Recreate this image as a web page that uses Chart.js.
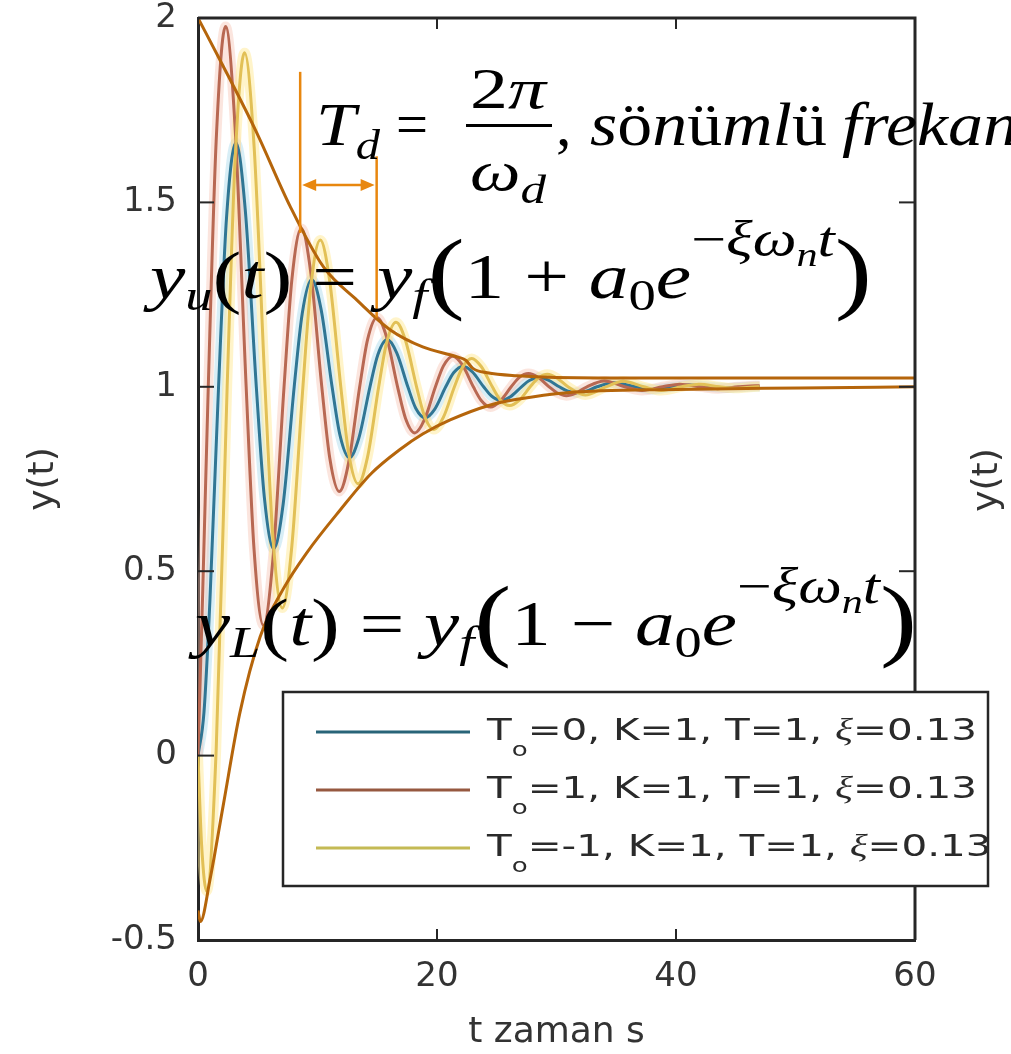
<!DOCTYPE html>
<html>
<head>
<meta charset="utf-8">
<script src="https://cdn.jsdelivr.net/npm/chart.js@4.4.1/dist/chart.umd.min.js"></script>
<style>
  html, body { margin: 0; padding: 0; background: #fff; }
  canvas { display: block; }
</style>
</head>
<body>
<canvas id="chart" width="1011" height="1054"></canvas>
<script>
// step responses (t in s)
const tBlue = [0, 0.5, 1.0, 1.72, 2.38, 3.17, 3.96, 4.88, 5.55, 6.34, 7.13, 8.05, 8.72, 9.51, 10.30, 11.22, 11.88, 12.67, 13.46, 14.39, 15.05, 15.84, 16.63, 17.56, 18.22, 19.01, 19.80, 20.73, 21.39, 22.18, 22.97, 23.90, 24.56, 25.35, 26.14, 27.07, 27.73, 28.52, 29.31, 30.23, 30.90, 31.69, 32.48, 33.40, 34.85, 36.57, 38.02, 39.74, 41.19, 42.91, 44.36, 46.08, 47.0];
const yBlue = [0, 0.117, 0.423, 1.0, 1.455, 1.662, 1.478, 1.0, 0.701, 0.561, 0.683, 1.0, 1.198, 1.291, 1.210, 1.0, 0.869, 0.808, 0.861, 1.0, 1.087, 1.128, 1.092, 1.0, 0.942, 0.916, 0.939, 1.0, 1.038, 1.056, 1.040, 1.0, 0.975, 0.963, 0.973, 1.0, 1.017, 1.025, 1.018, 1.0, 0.989, 0.984, 0.988, 1.0, 1.011, 1.0, 0.993, 1.0, 1.005, 1.0, 0.997, 1.0, 1.001];

const tRed = [0, 0.4, 0.86, 1.52, 2.31, 3.10, 4.03, 4.69, 5.48, 6.27, 7.20, 7.86, 8.65, 9.44, 10.36, 11.03, 11.82, 12.61, 13.53, 14.19, 14.98, 15.77, 16.70, 17.36, 18.15, 18.94, 19.87, 20.53, 21.32, 22.11, 23.04, 23.70, 24.49, 25.28, 26.21, 26.87, 27.66, 28.45, 29.38, 30.04, 30.83, 31.62, 32.55, 33.99, 35.71, 37.16, 38.88, 40.33, 42.05, 43.50, 45.22, 46.67, 47.0];
const yRed = [0, 0.45, 1.0, 1.666, 1.977, 1.705, 1.0, 0.559, 0.353, 0.533, 1.0, 1.292, 1.429, 1.309, 1.0, 0.806, 0.716, 0.795, 1.0, 1.128, 1.188, 1.136, 1.0, 0.915, 0.875, 0.910, 1.0, 1.056, 1.083, 1.060, 1.0, 0.963, 0.945, 0.961, 1.0, 1.025, 1.036, 1.026, 1.0, 0.984, 0.976, 0.983, 1.0, 1.016, 1.0, 0.990, 1.0, 1.007, 1.0, 0.995, 1.0, 1.003, 1.003];

const tYel = [0, 0.3, 0.73, 1.52, 2.44, 3.11, 3.90, 4.69, 5.61, 6.27, 7.06, 7.85, 8.78, 9.44, 10.23, 11.02, 11.95, 12.61, 13.40, 14.19, 15.12, 15.78, 16.57, 17.36, 18.29, 18.95, 19.74, 20.53, 21.46, 22.12, 22.91, 23.70, 24.63, 25.29, 26.08, 26.87, 27.80, 28.45, 29.24, 30.03, 30.96, 32.41, 34.13, 35.58, 37.30, 38.75, 40.47, 41.92, 43.64, 45.08, 46.80, 47.0];
const yYel = [0, -0.241, -0.368, 0.014, 1.0, 1.618, 1.906, 1.654, 1.0, 0.591, 0.400, 0.567, 1.0, 1.271, 1.398, 1.287, 1.0, 0.820, 0.737, 0.810, 1.0, 1.119, 1.175, 1.126, 1.0, 0.921, 0.884, 0.917, 1.0, 1.052, 1.077, 1.055, 1.0, 0.965, 0.949, 0.963, 1.0, 1.023, 1.034, 1.024, 1.0, 0.978, 1.0, 1.015, 1.0, 0.990, 1.0, 1.007, 1.0, 0.996, 1.0, 1.0];

// hand drawn envelopes
const tUp = [0, 2.1, 4.9, 7.7, 10.5, 13.3, 16.1, 18.8, 21.7, 22.4, 23.0, 24.2, 26.7, 33.6, 45, 60];
const yUp = [2.0, 1.87, 1.69, 1.49, 1.325, 1.235, 1.154, 1.108, 1.081, 1.072, 1.050, 1.038, 1.030, 1.024, 1.024, 1.024];
const tLow = [0, 0.2, 1.0, 2.1, 3.5, 5.2, 7.1, 9.1, 11.9, 14.5, 16.9, 18.8, 21.1, 24.4, 26.7, 30.9, 40, 50.4, 60];
const yLow = [-0.42, -0.45, -0.337, -0.137, 0.115, 0.322, 0.45, 0.55, 0.666, 0.765, 0.83, 0.872, 0.91, 0.95, 0.966, 0.984, 0.993, 0.997, 1.0];

// Td marker: two vertical lines and the double arrow between them
const tdT = [8.55, 14.95];
const tdTop = [1.854, 1.625];
const tdBot = [1.417, 1.188];
const tdArrowY = 1.547;

const legendRows = ["=0, K=1, T=1, ", "=1, K=1, T=1, ", "=-1, K=1, T=1, "];
const xTicks = [0, 20, 40, 60];
const yTicks = [-0.5, 0, 0.5, 1, 1.5, 2];

const SERIF = '"Liberation Serif", "DejaVu Serif", serif';
const SANS = '"DejaVu Sans", sans-serif';
const mi = s => `italic ${s}px ${SERIF}`;
const mr = s => `${s}px ${SERIF}`;
const ss = s => `${s}px ${SANS}`;
const R = (t, f, dy) => ({ t, f, dy: dy || 0 });

function drawRuns(ctx, list, x, base, width, sxIn) {
    let total = 0;
    for (const r of list) {
        ctx.font = r.f;
        r.w = ctx.measureText(r.t).width;
        total += r.w;
    }
    const sx = width ? width / total : (sxIn || 1);
    ctx.save();
    ctx.translate(x, base);
    ctx.scale(sx, 1);
    let cx = 0;
    for (const r of list) {
        ctx.font = r.f;
        ctx.fillText(r.t, cx, r.dy);
        cx += r.w;
    }
    ctx.restore();
    return sx;
}

function seg(ctx, x1, y1, x2, y2) {
    ctx.beginPath();
    ctx.moveTo(x1, y1);
    ctx.lineTo(x2, y2);
    ctx.stroke();
}

const pts = (ts, vs) => ts.map((t, i) => ({ x: t, y: vs[i] }));

const framePlugin = {
    id: "frame",
    afterDatasetsDraw(chart) {
        const { ctx, chartArea: { left, right, top, bottom }, scales: { x, y } } = chart;
        ctx.save();
        ctx.strokeStyle = "#262626";
        ctx.lineWidth = 3;
        ctx.beginPath();
        ctx.moveTo(left, top);
        ctx.lineTo(right, top);
        ctx.lineTo(right, bottom);
        ctx.stroke();
        ctx.lineWidth = 2;
        yTicks.forEach(v => {
            const py = y.getPixelForValue(v);
            seg(ctx, left, py, left + 16, py);
            seg(ctx, right, py, right - 16, py);
        });
        xTicks.forEach(v => {
            const px = x.getPixelForValue(v);
            seg(ctx, px, bottom, px, bottom - 11);
            seg(ctx, px, top, px, top + 11);
        });
        ctx.restore();
    },
    afterDraw(chart) {
        const { ctx, scales: { x, y } } = chart;
        ctx.save();

        // Td period marker
        ctx.strokeStyle = "#E8870F";
        ctx.fillStyle = "#E8870F";
        ctx.lineWidth = 2.5;
        tdT.forEach((t, i) => {
            const px = x.getPixelForValue(t);
            seg(ctx, px, y.getPixelForValue(tdTop[i]), px, y.getPixelForValue(tdBot[i]));
        });
        const ay = y.getPixelForValue(tdArrowY);
        const a1 = x.getPixelForValue(tdT[0]) + 2;
        const a2 = x.getPixelForValue(tdT[1]) - 2;
        seg(ctx, a1 + 8, ay, a2 - 8, ay);
        ctx.beginPath();
        ctx.moveTo(a1, ay); ctx.lineTo(a1 + 14, ay - 6); ctx.lineTo(a1 + 14, ay + 6); ctx.closePath();
        ctx.moveTo(a2, ay); ctx.lineTo(a2 - 14, ay - 6); ctx.lineTo(a2 - 14, ay + 6); ctx.closePath();
        ctx.fill();

        // formulas
        ctx.fillStyle = "#000";
        ctx.textBaseline = "alphabetic";
        drawRuns(ctx, [R("T", mi(62)), R("d", mi(42), 14)], 316, 145, 64);
        drawRuns(ctx, [R("=", mr(62))], 396, 145, 32);
        drawRuns(ctx, [R("2", mr(56)), R("π", mi(56))], 470, 108, 76);
        ctx.fillRect(466, 124, 86, 3);
        drawRuns(ctx, [R("ω", mi(56)), R("d", mi(40), 13)], 470, 190, 76);
        drawRuns(ctx, [R(",", mr(62))], 556, 145);
        const sx = drawRuns(ctx, [R("s", mi(62)), R("ö", mr(62)), R("n", mi(62)), R("ü", mr(62)),
            R("ml", mi(62)), R("ü", mr(62))], 590, 145, 237);
        drawRuns(ctx, [R("frekans", mi(62))], 842, 145, 0, sx);

        const env = (sub, sign) => [
            R("y", mi(64)), R(sub, mi(44), 12), R("(", mr(70), 2), R("t", mi(64)), R(")", mr(70), 2),
            R(" = ", mr(64)), R("y", mi(64)), R("f", mi(44), 12), R("(", mr(90), 4), R("1", mr(64)),
            R(" " + sign + " ", mr(64)), R("a", mi(64)), R("0", mr(44), 12), R("e", mi(64)),
            R("−", mr(50), -42), R("ξω", mi(50), -42), R("n", mi(34), -32), R("t", mi(50), -42),
            R(")", mr(90), 4)
        ];
        drawRuns(ctx, env("u", "+"), 150, 298, 722);
        drawRuns(ctx, env("L", "−"), 195, 645, 722);

        // legend
        ctx.fillStyle = "#fff";
        ctx.fillRect(283, 692, 705, 194);
        ctx.strokeStyle = "#262626";
        ctx.lineWidth = 2.5;
        ctx.strokeRect(283, 692, 705, 194);
        const legColors = ["rgb(40,100,120)", "rgb(150,88,64)", "rgb(196,186,84)"];
        let lsx = 0;
        legendRows.forEach((txt, i) => {
            const base = 740 + i * 58;
            ctx.strokeStyle = legColors[i];
            ctx.lineWidth = 3;
            seg(ctx, 316, base - 8, 470, base - 8);
            ctx.fillStyle = "#2a2a2a";
            const runs = [R("T", ss(31)), R("o", ss(20), 16), R(txt, ss(31)), R("ξ", mi(32)), R("=0.13", ss(31))];
            if (i === 0) lsx = drawRuns(ctx, runs, 487, base, 490);
            else drawRuns(ctx, runs, 487, base, 0, lsx);
        });

        // neighbouring panel's axis label
        ctx.fillStyle = "#333";
        ctx.font = ss(36);
        ctx.textAlign = "center";
        ctx.textBaseline = "middle";
        ctx.translate(988, 480);
        ctx.rotate(-Math.PI / 2);
        ctx.fillText("y(t)", 0, 0);
        ctx.restore();
    }
};

const tickFont = { family: "DejaVu Sans", size: 34, lineHeight: 1 };
const titleFont = { family: "DejaVu Sans", size: 36 };

new Chart(document.getElementById("chart"), {
    type: "line",
    data: {
        datasets: [
            { label: "upper", data: pts(tUp, yUp), borderColor: "#B5650B", borderWidth: 3, order: 1 },
            { label: "lower", data: pts(tLow, yLow), borderColor: "#B5650B", borderWidth: 3, order: 1 },
            { label: "To=-1", data: pts(tYel, yYel), borderColor: "rgb(226,192,86)", borderWidth: 3, order: 4 },
            { label: "To=1", data: pts(tRed, yRed), borderColor: "rgb(184,104,82)", borderWidth: 3, order: 5 },
            { label: "To=0", data: pts(tBlue, yBlue), borderColor: "rgb(48,118,148)", borderWidth: 3, order: 6 },
            { label: "halo-1", data: pts(tYel, yYel), borderColor: "rgba(255,234,150,0.5)", borderWidth: 10, order: 7 },
            { label: "halo1", data: pts(tRed, yRed), borderColor: "rgba(246,190,172,0.4)", borderWidth: 10, order: 8 },
            { label: "halo0", data: pts(tBlue, yBlue), borderColor: "rgba(168,218,234,0.45)", borderWidth: 10, order: 9 }
        ]
    },
    options: {
        responsive: false,
        animation: false,
        layout: { padding: { top: 18, right: 96, left: 0, bottom: 0 } },
        elements: {
            point: { radius: 0 },
            line: { cubicInterpolationMode: "monotone", fill: false }
        },
        plugins: { legend: { display: false }, tooltip: { enabled: false } },
        scales: {
            x: {
                type: "linear",
                min: 0,
                max: 60,
                afterFit: s => { s.height = 114; s.paddingLeft = 0; s.paddingRight = 0; },
                afterBuildTicks: s => { s.ticks = xTicks.map(v => ({ value: v })); },
                ticks: { font: tickFont, color: "#333", padding: 20, maxRotation: 0, callback: v => String(v) },
                grid: { display: false, drawTicks: false },
                border: { display: true, color: "#262626", width: 3 },
                title: { display: true, text: "t zaman s", font: titleFont, color: "#333", padding: { top: 0, bottom: 0 } }
            },
            y: {
                type: "linear",
                min: -0.5,
                max: 2,
                afterFit: s => { s.width = 198; s.paddingTop = 0; s.paddingBottom = 0; },
                afterBuildTicks: s => { s.ticks = yTicks.map(v => ({ value: v })); },
                ticks: { font: tickFont, color: "#333", padding: 21, callback: v => String(v) },
                grid: { display: false, drawTicks: false },
                border: { display: true, color: "#262626", width: 3 },
                title: { display: true, text: "y(t)", font: titleFont, color: "#333", padding: { top: 22, bottom: 0 } }
            }
        }
    },
    plugins: [framePlugin]
});
</script>
</body>
</html>
